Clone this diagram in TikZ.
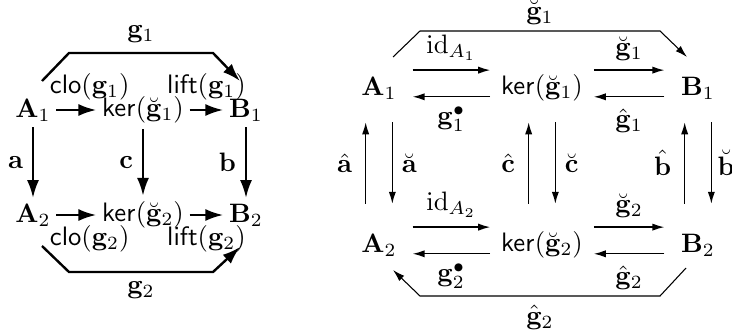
\documentclass[tikz,border=0pt]{standalone}
\usepackage{amsmath}
\usetikzlibrary{arrows.meta}

\tikzset{
	lobj/.style={inner sep=2pt},
	lmap/.style={line width=0.9pt, -{Latex[length=6.7pt,width=4.5pt]}},
	rmap/.style={line width=0.5pt, -{Latex[length=4.5pt,width=2.7pt]}},
	rline/.style={line width=0.4pt},
	robj/.style={minimum width=24.8pt, minimum height=27.9pt, inner sep=0pt},
	rker/.style={minimum height=27.9pt, inner xsep=3.9pt, inner ysep=0pt},
}

\begin{document}
\begin{tikzpicture}[x=0.375pt,y=-0.375pt]
		\useasboundingbox (0,0) rectangle (732,331);
		
		% left square
		\node (A1) at (33,110) [lobj] {$\mathbf{A}_1$};
		\node (K1) at (143,110) [lobj] {$\mathsf{ker}(\breve{\mathbf{g}}_1)$};
		\node (B1) at (246,110) [lobj] {$\mathbf{B}_1$};
		\node (A2) at (33,215) [lobj] {$\mathbf{A}_2$};
		\node (K2) at (143,215) [lobj] {$\mathsf{ker}(\breve{\mathbf{g}}_2)$};
		\node (B2) at (246,215) [lobj] {$\mathbf{B}_2$};
		
		\draw[lmap] (A1) -- node[above=0pt, xshift=5pt] {$\mathsf{clo}(\mathbf{g}_1)$} (K1);
		\draw[lmap] (K1) -- node[above=0pt] {$\mathsf{lift}(\mathbf{g}_1)$} (B1);
		\draw[lmap] (A2) -- node[below=0pt, xshift=5pt] {$\mathsf{clo}(\mathbf{g}_2)$} (K2);
		\draw[lmap] (K2) -- node[below=0pt] {$\mathsf{lift}(\mathbf{g}_2)$} (B2);
		
		\draw[lmap] (A1) -- node[left] {$\mathbf{a}$} (A2);
		\draw[lmap] (K1) -- node[left] {$\mathbf{c}$} (K2);
		\draw[lmap] (B1) -- node[left] {$\mathbf{b}$} (B2);
		
		\draw[lmap] ([shift={(9,-29)}]A1.center) -- ++(27,-28) -- node[above] {$\mathbf{g}_1$} ++(144,0) -- ([shift={(-6,-29)}]B1.center);
		\draw[lmap] ([shift={(9,31)}]A2.center) -- ++(27,26) -- node[below] {$\mathbf{g}_2$} ++(144,0) -- ([shift={(-6,32)}]B2.center);
		
		% right square
		\node (C1) at (379,88) [robj] {$\mathbf{A}_1$};
		\node (L1) at (542,88) [rker] {$\mathsf{ker}(\breve{\mathbf{g}}_1)$};
		\node (D1) at (698,88) [robj] {$\mathbf{B}_1$};
		\node (C2) at (379,245) [robj] {$\mathbf{A}_2$};
		\node (L2) at (542,245) [rker] {$\mathsf{ker}(\breve{\mathbf{g}}_2)$};
		\node (D2) at (698,245) [robj] {$\mathbf{B}_2$};
		
		\draw[rmap] ([yshift=6.7pt]C1.east) -- node[above] {$\mathrm{id}_{A_1}$} ([yshift=6.7pt]L1.west);
		\draw[rmap] ([yshift=-3.3pt]L1.west) -- node[below] {$\mathbf{g}_1^{\bullet}$} ([yshift=-3.3pt]C1.east);
		\draw[rmap] ([yshift=6.7pt]L1.east) -- node[above] {$\breve{\mathbf{g}}_1$} ([yshift=6.7pt]D1.west);
		\draw[rmap] ([yshift=-3.3pt]D1.west) -- node[below=1pt] {$\hat{\mathbf{g}}_1$} ([yshift=-3.3pt]L1.east);
		
		\draw[rmap] ([yshift=6.7pt]C2.east) -- node[above] {$\mathrm{id}_{A_2}$} ([yshift=6.7pt]L2.west);
		\draw[rmap] ([yshift=-3.3pt]L2.west) -- node[below] {$\mathbf{g}_2^{\bullet}$} ([yshift=-3.3pt]C2.east);
		\draw[rmap] ([yshift=6.7pt]L2.east) -- node[above] {$\breve{\mathbf{g}}_2$} ([yshift=6.7pt]D2.west);
		\draw[rmap] ([yshift=-3.3pt]D2.west) -- node[below=1pt] {$\hat{\mathbf{g}}_2$} ([yshift=-3.3pt]L2.east);
		
		\draw[rmap] ([xshift=-5pt,yshift=1.3pt]C2.north) -- node[left=1.5pt] {$\hat{\mathbf{a}}$} ([xshift=-5pt,yshift=1.3pt]C1.south);
		\draw[rmap] ([xshift=5pt,yshift=1.3pt]C1.south) -- node[right] {$\breve{\mathbf{a}}$} ([xshift=5pt,yshift=1.3pt]C2.north);
		\draw[rmap] ([xshift=-5pt,yshift=1.3pt]L2.north) -- node[left=1.5pt] {$\hat{\mathbf{c}}$} ([xshift=-5pt,yshift=1.3pt]L1.south);
		\draw[rmap] ([xshift=5pt,yshift=1.3pt]L1.south) -- node[right] {$\breve{\mathbf{c}}$} ([xshift=5pt,yshift=1.3pt]L2.north);
		\draw[rmap] ([xshift=-5pt,yshift=1.3pt]D2.north) -- node[left=1.5pt] {$\hat{\mathbf{b}}$} ([xshift=-5pt,yshift=1.3pt]D1.south);
		\draw[rmap] ([xshift=5pt,yshift=1.3pt]D1.south) -- node[right=-1.2pt] {$\breve{\mathbf{b}}$} ([xshift=5pt,yshift=1.3pt]D2.north);
		
		\draw[rline, -{Latex[length=4.5pt,width=2.7pt]}] ([shift={(14,-31)}]C1.center) -- ++(27,-26) -- node[above=-1pt] {$\breve{\mathbf{g}}_1$} ++(240,0) -- ([shift={(-11,-31)}]D1.center);
		\draw[rline, -{Latex[length=4.5pt,width=2.7pt]}] ([shift={(-12,23)}]D2.center) -- ++(-26,28) -- node[below] {$\hat{\mathbf{g}}_2$} ++(-240,0) -- ([shift={(14,25)}]C2.center);
		
	\end{tikzpicture}
\end{document}
